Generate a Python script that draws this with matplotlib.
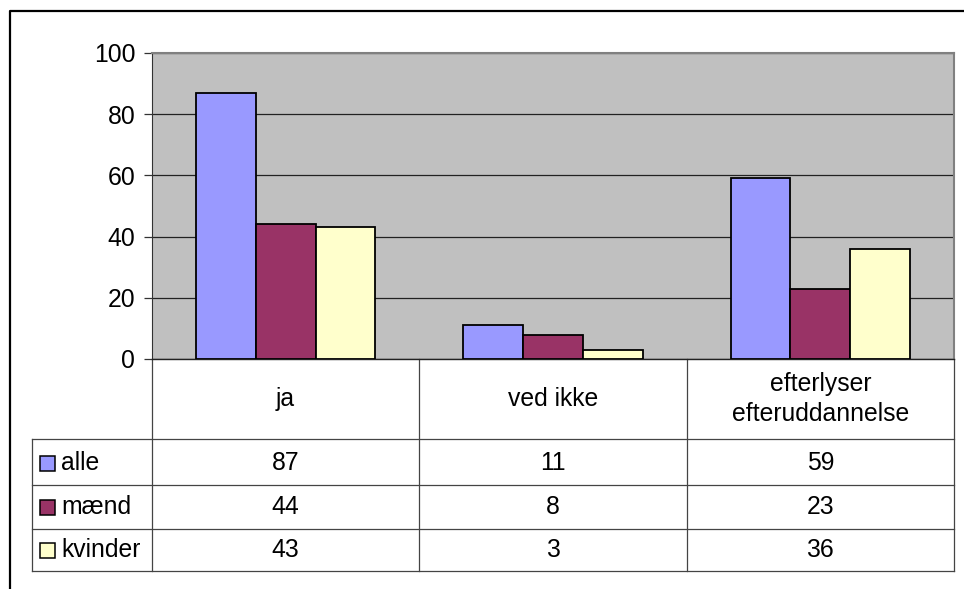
import numpy as np
import matplotlib.pyplot as plt
from matplotlib.patches import Rectangle
from matplotlib.lines import Line2D
import matplotlib.transforms as mtransforms

categories = ['ja', 'ved ikke', 'efterlyser\nefteruddannelse']
series_names = ['alle', 'mænd', 'kvinder']
alle = [87, 11, 59]
maend = [44, 8, 23]
kvinder = [43, 3, 36]
colors = ['#9999FF', '#993366', '#FFFFCC']
yticks = [0, 20, 40, 60, 80, 100]

plt.rcParams['font.family'] = ['Liberation Sans', 'DejaVu Sans']
FS = 17.8

W, H = 964, 589
fig = plt.figure(figsize=(W / 100, H / 100), dpi=100)

# plot area in pixels (image coords, y from top)
L, R, T, B = 152, 954, 53, 359
ax = fig.add_axes([L / W, (H - B) / H, (R - L) / W, (B - T) / H])
ax.set_facecolor('#C0C0C0')

x = np.arange(len(categories))
bw = 0.224
for i, vals in enumerate([alle, maend, kvinder]):
    ax.bar(x + (i - 1) * bw, vals, bw, color=colors[i], edgecolor='black',
           linewidth=1.3, zorder=3)

ax.set_xlim(-0.5, 2.5)
ax.set_ylim(0, 100)
ax.set_yticks(yticks)
ax.set_yticklabels([str(v) for v in yticks], fontsize=FS)
ax.yaxis.grid(True, color='#222222', linewidth=0.9, zorder=1)
ax.set_xticks([])
ax.tick_params(axis='y', direction='out', length=6, width=0.9, color='#333333', pad=6)
for s in ['top', 'right']:
    ax.spines[s].set_color('#808080')
    ax.spines[s].set_linewidth(1.5)
ax.spines['left'].set_color('#333333')
ax.spines['bottom'].set_color('#222222')
ax.spines['bottom'].set_linewidth(1.0)

# data table below the plot area
def ay(py):
    return (B - py) / (B - T)

blend = mtransforms.blended_transform_factory(ax.transData, ax.transAxes)
tc = '#444444'
tlw = 0.9
row_lines = [439, 485, 529, 571]
row_centers = [463, 507, 550]
header_center = 399
leg_left = (32 - L) / (R - L)

for py in row_lines:
    ax.add_line(Line2D([leg_left, 1], [ay(py), ay(py)], transform=ax.transAxes,
                       color=tc, lw=tlw, clip_on=False))
for xb in [-0.5, 0.5, 1.5, 2.5]:
    ax.add_line(Line2D([xb, xb], [0, ay(571)], transform=blend,
                       color=tc, lw=tlw, clip_on=False))
ax.add_line(Line2D([leg_left, leg_left], [ay(439), ay(571)], transform=ax.transAxes,
                   color=tc, lw=tlw, clip_on=False))

for xi, cat in zip(x, categories):
    ax.text(xi, ay(header_center), cat, transform=blend, ha='center', va='center',
            fontsize=FS, linespacing=1.3)

for r, (name, vals) in enumerate(zip(series_names, [alle, maend, kvinder])):
    yc = ay(row_centers[r])
    ax.add_patch(Rectangle(((40 - L) / (R - L), yc - 7.5 / (B - T)), 15 / (R - L), 15 / (B - T),
                           transform=ax.transAxes, facecolor=colors[r], edgecolor='black',
                           lw=1.1, clip_on=False))
    ax.text((61 - L) / (R - L), yc, name, transform=ax.transAxes, ha='left',
            va='center', fontsize=FS)
    for xi, v in zip(x, vals):
        ax.text(xi, yc, str(v), transform=blend, ha='center', va='center', fontsize=FS)

# outer chart border (only left and top visible)
fig.add_artist(Line2D([10 / W, 10 / W, 1.01], [-0.01, 1 - 11 / H, 1 - 11 / H],
                      transform=fig.transFigure, color='black', lw=1.6))

fig.savefig('out.png', dpi=100)
